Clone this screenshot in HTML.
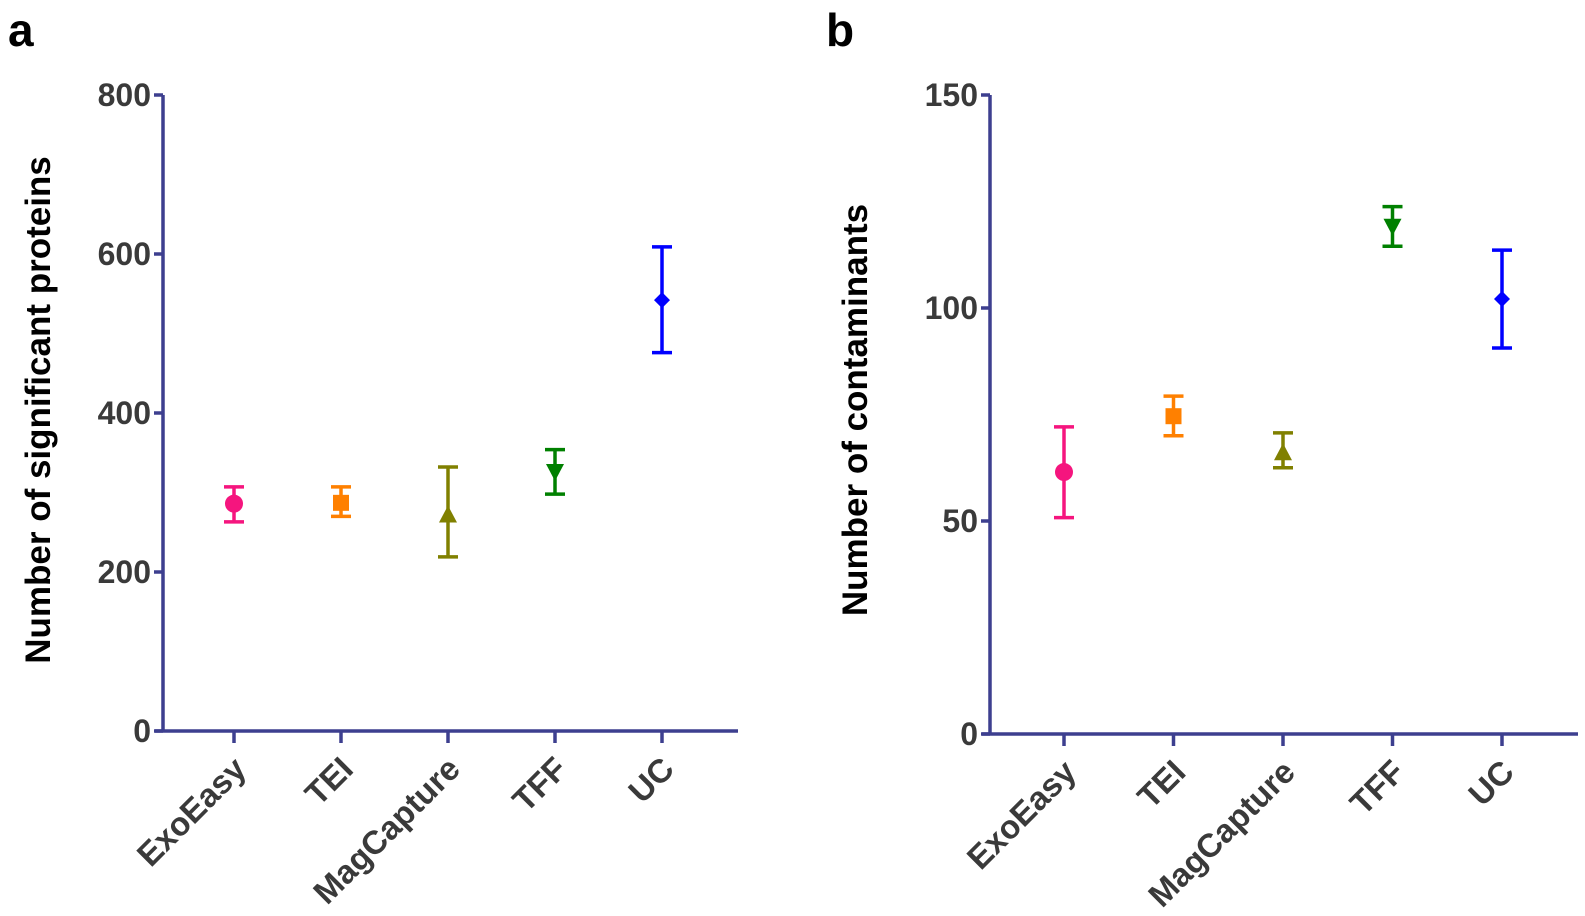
<!DOCTYPE html>
<html><head><meta charset="utf-8"><style>
body{margin:0;background:#fff}
svg{display:block;font-family:"Liberation Sans",Arial,sans-serif}
</style></head><body>
<svg id="chart" width="1585" height="916" viewBox="0 0 1585 916" xmlns="http://www.w3.org/2000/svg"></svg>
<script>
const categories = ["ExoEasy","TEI","MagCapture","TFF","UC"];
const colors = ["#f5157e","#ff8000","#808000","#008000","#0000ff"];
const shapes = ["circle","square","triangle","triangle-down","diamond"];
const aMeans = [286,287,271,327,542];
const aLow = [263,270,219,298,476];
const aHigh = [307,307,332,354,609];
const aTicks = [0,200,400,600,800];
const bMeans = [61.5,74.6,65.9,119.3,102.1];
const bLow = [50.8,70,62.5,114.5,90.6];
const bHigh = [72.1,79.3,70.7,123.8,113.6];
const bTicks = [0,50,100,150];

const NS="http://www.w3.org/2000/svg";
const svg=document.getElementById('chart');
function el(tag,attrs,parent){const e=document.createElementNS(NS,tag);for(const k in attrs)e.setAttribute(k,attrs[k]);(parent||svg).appendChild(e);return e;}

function panel(cfg){
  const g=el('g',{});
  
  
  const y=v=>cfg.y0-(v/cfg.max)*(cfg.y0-cfg.yTop);
  const x=i=>cfg.xs0+i*cfg.dx;
  const axc="#3d3f8f";
  const ya=el('line',{x1:cfg.ax,y1:cfg.yTop,x2:cfg.ax,y2:cfg.y0,stroke:axc,'stroke-width':3.5},g);
  
  
  const xa=el('line',{x1:cfg.ax-8,y1:cfg.y0,x2:cfg.xEnd,y2:cfg.y0,stroke:axc,'stroke-width':3.5},g);
  
  
  cfg.ticks.forEach(t=>{
    el('line',{x1:cfg.ax-9,y1:y(t),x2:cfg.ax,y2:y(t),stroke:axc,'stroke-width':3.5},g);
    const tl=el('text',{x:cfg.ax-12,y:y(t)+11,'text-anchor':'end','font-size':32,'font-weight':'bold',fill:'#3a3a3a'},g);
    tl.textContent=t;
    
    
  });
  categories.forEach((c,i)=>{
    const cx=x(i);
    el('line',{x1:cx,y1:cfg.y0,x2:cx,y2:cfg.y0+12,stroke:axc,'stroke-width':3.5},g);
    const lx=cx+14, ly=cfg.y0+40;
    const lbl=el('text',{x:lx,y:ly,'text-anchor':'end','font-size':33,'font-weight':'bold',fill:'#3a3a3a',transform:`rotate(-45 ${lx} ${ly})`},g);
    lbl.textContent=c;
    
    
    const col=colors[i];
    const eg=el('g',{},g);
    
    
    const yl=y(cfg.low[i]),yh=y(cfg.high[i]),ym=y(cfg.means[i]);
    el('line',{x1:cx,y1:yh,x2:cx,y2:yl,stroke:col,'stroke-width':3.5},eg);
    el('line',{x1:cx-10,y1:yh,x2:cx+10,y2:yh,stroke:col,'stroke-width':3.5},eg);
    el('line',{x1:cx-10,y1:yl,x2:cx+10,y2:yl,stroke:col,'stroke-width':3.5},eg);
    const s=shapes[i];
    if(s==='circle')el('circle',{cx:cx,cy:ym,r:9,fill:col},eg);
    else if(s==='square')el('rect',{x:cx-8,y:ym-8,width:16,height:16,fill:col},eg);
    else if(s==='triangle')el('polygon',{points:`${cx},${ym-10} ${cx-9},${ym+7} ${cx+9},${ym+7}`,fill:col},eg);
    else if(s==='triangle-down')el('polygon',{points:`${cx},${ym+10} ${cx-9},${ym-7} ${cx+9},${ym-7}`,fill:col},eg);
    else el('polygon',{points:`${cx},${ym-8} ${cx+8},${ym} ${cx},${ym+8} ${cx-8},${ym}`,fill:col},eg);
  });
  const t=el('text',{x:cfg.titleX,y:cfg.titleY,'text-anchor':'middle','font-size':35,'font-weight':'bold',fill:'#000',transform:`rotate(-90 ${cfg.titleX} ${cfg.titleY})`},g);
  t.textContent=cfg.title;
  
  
  const L=el('text',{x:cfg.letterX,y:46,'font-size':46,'font-weight':'bold',fill:'#000'},g);
  L.textContent=cfg.letter;
  
  
}
panel({name:'panel-a',ax:163,y0:731,yTop:95,max:800,xs0:234,dx:107,xEnd:738,ticks:aTicks,means:aMeans,low:aLow,high:aHigh,title:'Number of significant proteins',titleX:50,titleY:410,letter:'a',letterX:8});
panel({name:'panel-b',ax:990,y0:734,yTop:95,max:150,xs0:1064,dx:109.5,xEnd:1578,ticks:bTicks,means:bMeans,low:bLow,high:bHigh,title:'Number of contaminants',titleX:867,titleY:410,letter:'b',letterX:826});
</script>
</body></html>
